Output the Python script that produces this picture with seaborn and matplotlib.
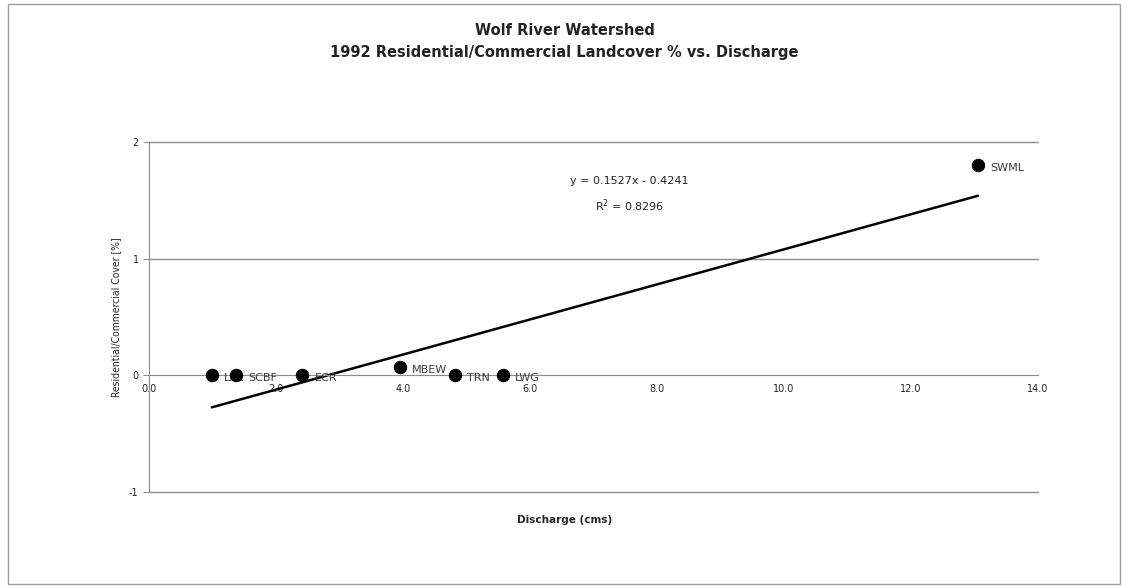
import pandas as pd
import seaborn as sns
import matplotlib.pyplot as plt

sites = ['LRL', 'SCBF', 'ECR', 'MBEW', 'TRN', 'LWG', 'SWML']
discharge = [0.99, 1.37, 2.41, 3.95, 4.82, 5.57, 13.06]
cover = [0.0, 0.0, 0.0, 0.07, 0.0, 0.0, 1.80]

df = pd.DataFrame({'site': sites, 'Discharge': discharge, 'Cover': cover})

sns.set_style('white')
plt.rcParams['axes.unicode_minus'] = False
fig = plt.figure(figsize=(11.29, 5.88), dpi=100)
ax = fig.add_axes([0.132, 0.163, 0.787, 0.596])

sns.regplot(data=df, x='Discharge', y='Cover', scatter=False, ci=None,
            color='black', line_kws={'lw': 1.8}, ax=ax)
sns.scatterplot(data=df, x='Discharge', y='Cover', color='black', s=80,
                edgecolor='black', zorder=5, ax=ax)

for i in range(len(sites)):
    ax.annotate(sites[i], (discharge[i], cover[i]), xytext=(9, -4),
                textcoords='offset points', fontsize=8, color='#3a3a3a')

ax.text(7.57, 1.66, 'y = 0.1527x - 0.4241', ha='center', va='center',
        fontsize=8, color='#222222')
ax.text(7.57, 1.45, 'R$^2$ = 0.8296', ha='center', va='center',
        fontsize=8, color='#222222')

ax.set_xlim(0, 14)
ax.set_ylim(-1, 2)
ax.set_xticks([0, 2, 4, 6, 8, 10, 12, 14])
ax.set_xticklabels(['0.0', '2.0', '4.0', '6.0', '8.0', '10.0', '12.0', '14.0'])
ax.set_yticks([-1, 0, 1, 2])
for yv in [-1, 1, 2]:
    ax.axhline(yv, color='#8c8c8c', lw=1, clip_on=False, zorder=0)

ax.spines['top'].set_visible(False)
ax.spines['right'].set_visible(False)
ax.spines['bottom'].set_position(('data', 0))
ax.spines['bottom'].set_color('#8c8c8c')
ax.spines['left'].set_color('#8c8c8c')
ax.tick_params(axis='x', direction='inout', length=5, color='#8c8c8c',
               labelsize=7, pad=4)
ax.tick_params(axis='y', direction='out', length=4, color='#8c8c8c',
               labelsize=7, left=True)

ax.set_xlabel('')
ax.set_ylabel('Residential/Commercial Cover [%]', fontsize=7.5,
              fontstretch='condensed', labelpad=6)
fig.text(0.5, 0.115, 'Discharge (cms)', ha='center', va='center',
         fontsize=7.5, fontweight='bold')

fig.text(0.5, 0.93, 'Wolf River Watershed\n1992 Residential/Commercial Landcover % vs. Discharge',
         ha='center', va='center', fontsize=10.5, fontweight='bold',
         color='#222222', linespacing=1.6)

fig.add_artist(plt.Rectangle((0.007, 0.006), 0.985, 0.988, fill=False,
                             edgecolor='#a0a0a0', lw=1, transform=fig.transFigure))

fig.savefig('out.png', dpi=100)
